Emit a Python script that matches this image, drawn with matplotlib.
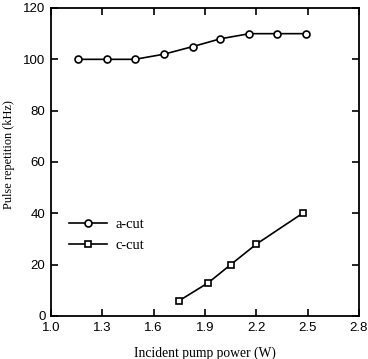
import matplotlib
matplotlib.use("Agg")
import matplotlib.pyplot as plt

# a-cut data
a_power = [1.16, 1.33, 1.49, 1.66, 1.83, 1.99, 2.16, 2.32, 2.49]
a_rate = [100, 100, 100, 102, 105, 108, 110, 110, 110]

# c-cut data
c_power = [1.75, 1.92, 2.05, 2.20, 2.47]
c_rate = [6, 13, 20, 28, 40]

x_ticks = [1.0, 1.3, 1.6, 1.9, 2.2, 2.5, 2.8]
y_ticks = [0, 20, 40, 60, 80, 100, 120]

fig = plt.figure(figsize=(3.68, 3.59), dpi=100)
ax = fig.add_axes([51 / 368, 1 - 316 / 359, 308 / 368, 308 / 359])

ax.plot(a_power, a_rate, color='black', lw=1.2, marker='o', ms=5,
        mfc='white', mec='black', mew=1.2, label='a-cut')
ax.plot(c_power, c_rate, color='black', lw=1.2, marker='s', ms=5,
        mfc='white', mec='black', mew=1.2, label='c-cut')

ax.set_xlim(1.0, 2.8)
ax.set_ylim(0, 120)
ax.set_xticks(x_ticks)
ax.set_xticklabels([f"{t:.1f}" for t in x_ticks], family='Liberation Sans', fontsize=9.5)
ax.set_yticks(y_ticks)
ax.set_yticklabels([str(t) for t in y_ticks], family='Liberation Sans', fontsize=9.5)
ax.tick_params(direction='in', top=True, right=True, length=5, width=1.2, pad=4)
for s in ax.spines.values():
    s.set_linewidth(1.3)

ax.set_xlabel("Incident pump power (W)", family='Liberation Serif', fontsize=9.8, labelpad=9.5)
ax.set_ylabel("Pulse repetition (kHz)", family='Liberation Serif', fontsize=8.8)
ax.yaxis.set_label_coords(-0.117, 0.525)

ax.legend(loc='upper left', bbox_to_anchor=(0.015, 0.36), frameon=False,
          prop={'family': 'Liberation Serif', 'size': 10.5}, handlelength=2.6,
          handletextpad=0.6, labelspacing=0.5)

fig.savefig("out.png", dpi=100)
